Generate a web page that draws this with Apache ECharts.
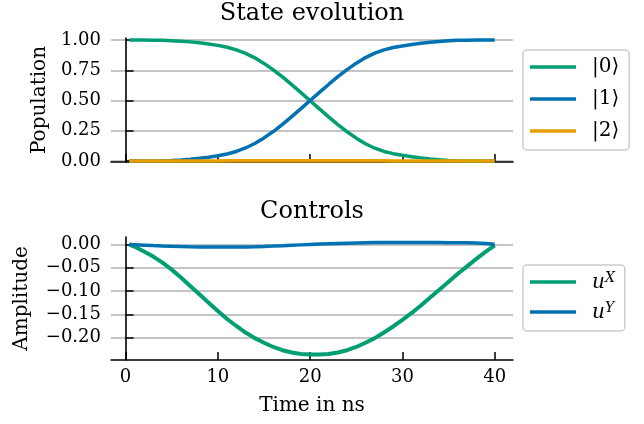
<!DOCTYPE html>
<html>
<head>
<meta charset="utf-8">
<script src="https://cdn.jsdelivr.net/npm/echarts@6/dist/echarts.min.js"></script>
<style>
  html, body { margin: 0; padding: 0; background: #fff; }
  #chart { width: 644px; height: 424px; }
</style>
</head>
<body>
<div id="chart"></div>
<script>
// time grid in ns
var times = [0.4, 1, 2, 3, 4, 5, 6, 7, 8, 9, 10, 11, 12, 13, 14, 15, 16, 17, 18, 19, 20,
  21, 22, 23, 24, 25, 26, 27, 28, 29, 30, 31, 32, 33, 34, 35, 36, 37, 38, 39, 40];

// populations
var pop0 = [1.000, 1.000, 1.000, 0.999, 0.998, 0.995, 0.991, 0.985, 0.977, 0.967, 0.956,
  0.941, 0.919, 0.890, 0.853, 0.807, 0.754, 0.695, 0.631, 0.565, 0.498,
  0.431, 0.365, 0.301, 0.242, 0.189, 0.143, 0.106, 0.079, 0.061, 0.048,
  0.036, 0.026, 0.017, 0.010, 0.005, 0.002, 0.001, 0.000, 0.000, 0.000];
var pop1 = [0.000, 0.000, 0.000, 0.001, 0.002, 0.005, 0.009, 0.015, 0.023, 0.032, 0.043,
  0.058, 0.079, 0.108, 0.145, 0.191, 0.244, 0.303, 0.367, 0.433, 0.500,
  0.567, 0.633, 0.697, 0.756, 0.809, 0.855, 0.892, 0.919, 0.938, 0.951,
  0.963, 0.973, 0.982, 0.989, 0.994, 0.998, 0.999, 1.000, 1.000, 1.000];
var pop2 = [0.000, 0.000, 0.000, 0.000, 0.000, 0.000, 0.000, 0.000, 0.000, 0.001, 0.001,
  0.002, 0.002, 0.002, 0.002, 0.002, 0.002, 0.002, 0.002, 0.002, 0.002,
  0.002, 0.002, 0.002, 0.002, 0.002, 0.002, 0.002, 0.002, 0.001, 0.001,
  0.001, 0.001, 0.001, 0.001, 0.001, 0.000, 0.000, 0.000, 0.000, 0.000];

// controls
var uX = [0.000, -0.005, -0.015, -0.026, -0.039, -0.054, -0.071, -0.089, -0.107, -0.125, -0.143,
  -0.160, -0.175, -0.189, -0.201, -0.211, -0.220, -0.227, -0.232, -0.235, -0.236,
  -0.236, -0.235, -0.232, -0.227, -0.220, -0.211, -0.201, -0.189, -0.176, -0.162,
  -0.147, -0.131, -0.114, -0.097, -0.080, -0.063, -0.047, -0.031, -0.016, -0.002];
var uY = [0.0000, -0.0005, -0.0015, -0.0025, -0.0033, -0.0040, -0.0046, -0.0050, -0.0053, -0.0055, -0.0056,
  -0.0056, -0.0055, -0.0052, -0.0048, -0.0042, -0.0035, -0.0027, -0.0018, -0.0009, 0.0000,
  0.0008, 0.0015, 0.0022, 0.0028, 0.0033, 0.0037, 0.0040, 0.0042, 0.0043, 0.0043,
  0.0043, 0.0042, 0.0041, 0.0040, 0.0038, 0.0036, 0.0034, 0.0030, 0.0022, 0.0005];

var xTicks = [0, 10, 20, 30, 40];
var popTicks = [0, 0.25, 0.5, 0.75, 1];
var ampTicks = [0, -0.05, -0.10, -0.15, -0.20];

function pairs(ys) {
  var out = [];
  for (var i = 0; i < times.length; i++) out.push([times[i], ys[i]]);
  return out;
}

var FONT = 'DejaVu Serif';
var green = '#009E73', blue = '#0072B2', orange = '#E69F00';

function xAxisCfg(idx, showLabels) {
  var ax = {
    type: 'value', gridIndex: idx, min: -1.58, max: 41.98,
    axisLine: { show: true, onZero: false, lineStyle: { color: '#000', width: 1.6 } },
    axisTick: { show: true, inside: true, length: 8, customValues: xTicks, lineStyle: { color: '#000', width: 1.5 } },
    axisLabel: { show: showLabels, customValues: xTicks, margin: 8, fontFamily: FONT, fontSize: 18, color: '#000' },
    splitLine: { show: false }
  };
  if (showLabels) {
    ax.name = 'Time in ns';
    ax.nameLocation = 'middle';
    ax.nameGap = 36;
    ax.nameTextStyle = { fontFamily: FONT, fontSize: 20, color: '#000' };
  }
  return ax;
}

var chart = echarts.init(document.getElementById('chart'), null, { renderer: 'canvas' });
chart.setOption({
  animation: false,
  backgroundColor: '#fff',
  title: [
    { text: 'State evolution', left: 312, top: 2, textAlign: 'center', padding: 0,
      textStyle: { fontFamily: FONT, fontSize: 24, fontWeight: 'normal', color: '#000' } },
    { text: 'Controls', left: 312, top: 200, textAlign: 'center', padding: 0,
      textStyle: { fontFamily: FONT, fontSize: 24, fontWeight: 'normal', color: '#000' } }
  ],
  grid: [
    { left: 111, top: 38, width: 402, height: 124 },
    { left: 111, top: 237, width: 402, height: 123 }
  ],
  legend: [
    { data: ['|0⟩', '|1⟩', '|2⟩'], orient: 'vertical', left: 523, top: 50,
      icon: 'rect', itemWidth: 46, itemHeight: 3.5, itemGap: 10,
      padding: [6, 10, 8, 7], borderColor: '#cccccc', borderWidth: 1.5, borderRadius: 4,
      backgroundColor: '#fff',
      textStyle: { fontFamily: FONT, fontSize: 20, color: '#000', lineHeight: 22, padding: [0, 0, 0, 11] } },
    { data: ['uX', 'uY'], orient: 'vertical', left: 523, top: 265,
      icon: 'rect', itemWidth: 46, itemHeight: 3.5, itemGap: 8,
      padding: [6, 10, 8, 7], borderColor: '#cccccc', borderWidth: 1.5, borderRadius: 4,
      backgroundColor: '#fff',
      formatter: function (name) { return name === 'uX' ? '{u|u}{s|X}' : '{u|u}{s|Y}'; },
      textStyle: { fontFamily: FONT, fontSize: 20, color: '#000', lineHeight: 22, padding: [0, 0, 0, 11],
        rich: {
          u: { fontFamily: FONT, fontSize: 20, fontStyle: 'italic', color: '#000', lineHeight: 22, verticalAlign: 'bottom' },
          s: { fontFamily: FONT, fontSize: 14, fontStyle: 'italic', color: '#000', lineHeight: 14, verticalAlign: 'top' }
        } } }
  ],
  xAxis: [xAxisCfg(0, false), xAxisCfg(1, true)],
  yAxis: [
    { type: 'value', gridIndex: 0, min: -0.008, max: 1.017,
      name: 'Population', nameLocation: 'middle', nameGap: 61,
      nameTextStyle: { fontFamily: FONT, fontSize: 20, color: '#000' },
      axisLine: { show: true, lineStyle: { color: '#000', width: 1.6 } },
      axisTick: { show: true, inside: true, length: 8, customValues: popTicks, lineStyle: { color: '#000', width: 1.5 } },
      axisLabel: { customValues: popTicks, margin: 10, fontFamily: FONT, fontSize: 18, color: '#000',
        formatter: function (v) { return v.toFixed(2); } },
      splitLine: { show: true, lineStyle: { color: '#b0b0b0', width: 1.5 } }
    },
    { type: 'value', gridIndex: 1, min: -0.248, max: 0.016,
      name: 'Amplitude', nameLocation: 'middle', nameGap: 79,
      nameTextStyle: { fontFamily: FONT, fontSize: 20, color: '#000' },
      axisLine: { show: true, lineStyle: { color: '#000', width: 1.6 } },
      axisTick: { show: true, inside: true, length: 8, customValues: ampTicks, lineStyle: { color: '#000', width: 1.5 } },
      axisLabel: { customValues: ampTicks, margin: 10, fontFamily: FONT, fontSize: 18, color: '#000',
        formatter: function (v) { return Math.abs(v) < 1e-9 ? '0.00' : '\u2212' + Math.abs(v).toFixed(2); } },
      splitLine: { show: true, lineStyle: { color: '#b0b0b0', width: 1.5 } }
    }
  ],
  series: [
    { name: '|0⟩', type: 'line', xAxisIndex: 0, yAxisIndex: 0, data: pairs(pop0), showSymbol: false,
      color: green, lineStyle: { color: green, width: 3.5 }, clip: false },
    { name: '|1⟩', type: 'line', xAxisIndex: 0, yAxisIndex: 0, data: pairs(pop1), showSymbol: false,
      color: blue, lineStyle: { color: blue, width: 3.5 }, clip: false },
    { name: '|2⟩', type: 'line', xAxisIndex: 0, yAxisIndex: 0, data: pairs(pop2), showSymbol: false,
      color: orange, lineStyle: { color: orange, width: 3.5 }, clip: false },
    { name: 'uX', type: 'line', xAxisIndex: 1, yAxisIndex: 1, data: pairs(uX), showSymbol: false,
      color: green, lineStyle: { color: green, width: 4 }, clip: false },
    { name: 'uY', type: 'line', xAxisIndex: 1, yAxisIndex: 1, data: pairs(uY), showSymbol: false,
      color: blue, lineStyle: { color: blue, width: 3.5 }, clip: false }
  ]
});
</script>
</body>
</html>
